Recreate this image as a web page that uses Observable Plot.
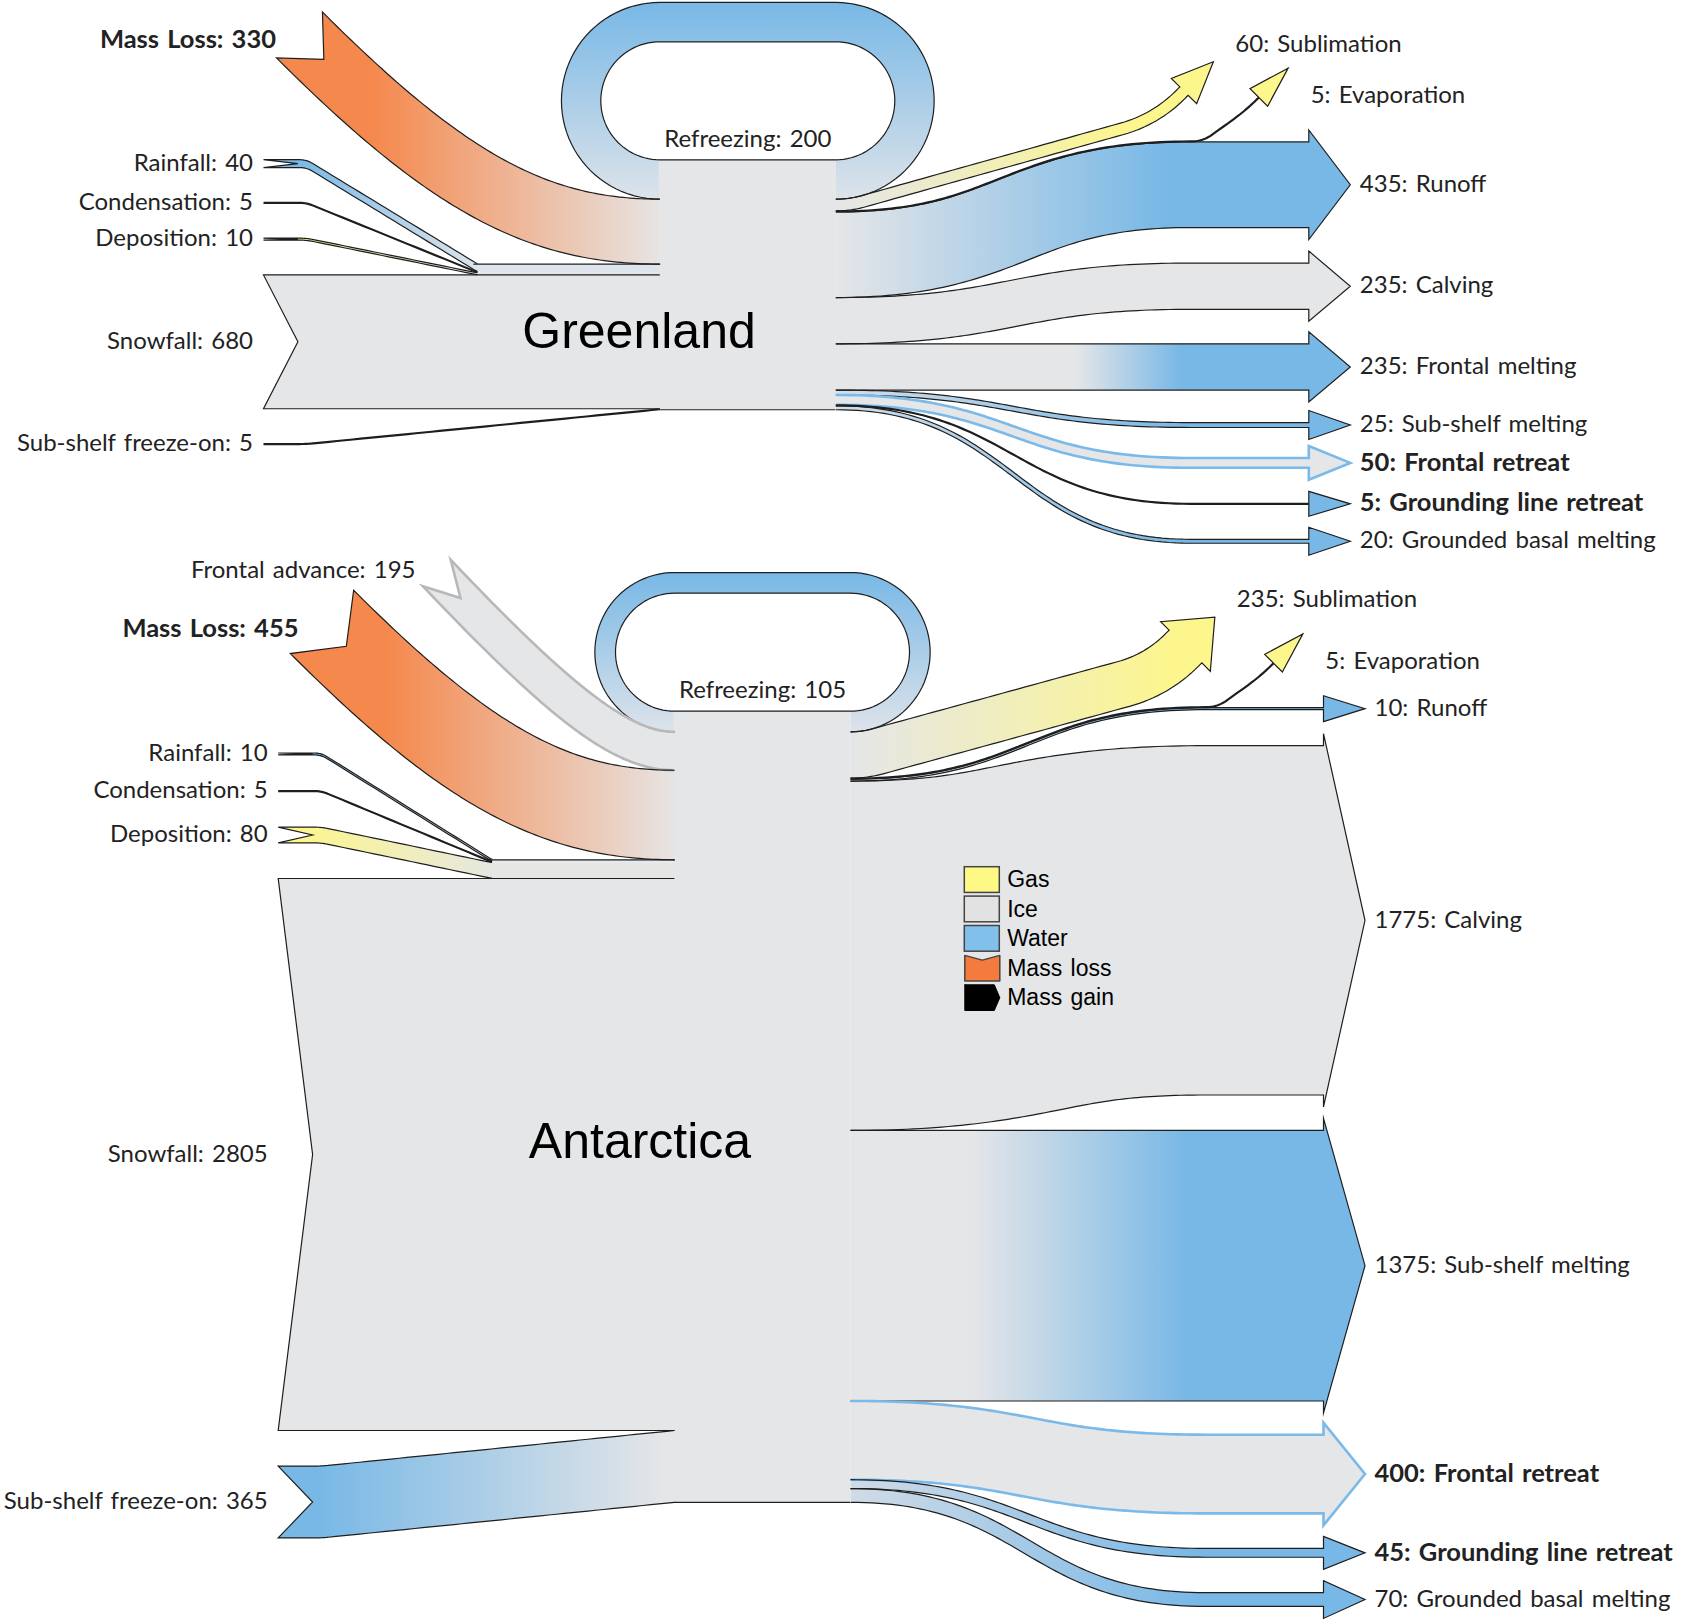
<!DOCTYPE html>
<html><head><meta charset="utf-8">
<script src="https://cdn.jsdelivr.net/npm/d3@7"></script>
<script src="https://cdn.jsdelivr.net/npm/@observablehq/plot@0.6"></script>
<style>body{margin:0;background:#fff} svg{display:block}</style>
</head><body><div id="chart"></div>
<script>
// ---------------- data (Gt per year) ----------------
const greenlandIn = ["Refreezing","Mass Loss","Rainfall","Condensation","Deposition","Snowfall","Sub-shelf freeze-on"];
const greenlandInValues = [200, 330, 40, 5, 10, 680, 5];
const greenlandOut = ["Refreezing","Sublimation","Evaporation","Runoff","Calving","Frontal melting","Sub-shelf melting","Frontal retreat","Grounding line retreat","Grounded basal melting"];
const greenlandOutValues = [200, 60, 5, 435, 235, 235, 25, 50, 5, 20];
const antarcticaIn = ["Refreezing","Frontal advance","Mass Loss","Rainfall","Condensation","Deposition","Snowfall","Sub-shelf freeze-on"];
const antarcticaInValues = [105, 195, 455, 10, 5, 80, 2805, 365];
const antarcticaOut = ["Refreezing","Sublimation","Evaporation","Runoff","Calving","Sub-shelf melting","Frontal retreat","Grounding line retreat","Grounded basal melting"];
const antarcticaOutValues = [105, 235, 5, 10, 1775, 1375, 400, 45, 70];
const boldNames = ["Mass Loss","Frontal retreat","Grounding line retreat"];
const legendLabels = ["Gas","Ice","Water","Mass loss","Mass gain"];

// ---------------- layout / style constants ----------------
const W = 1681, H = 1621;
const K = 0.1968;            // px per unit of flow
const TRUNK_W = 176, TAIL_DX = 396.3, JOIN_DX = 182, STUB = 43, SCURVE = 355, HEAD_DX = 473;
const HEAD_LEN = 41.5, HEAD_EXT = 12, NOTCH = 34.4, R_IN = 59;
const C45 = Math.SQRT1_2;
const ICE = "#e5e6e8", WATER = "#78b8e6", GAS = "#fdf68c", LOSS = "#f5884c", EDGE = "#1e1e1e", EDGE_W = 1.2, WATER_EDGE = "#7ab9e8";
const FONT = "Lato", FS = 24, FSB = 25.5;

// ---------------- geometry helpers ----------------
function lineSamples(a, b) {
  const dx = b[0]-a[0], dy = b[1]-a[1], L = Math.hypot(dx, dy);
  if (L < 1e-9) return [];
  const tx = dx/L, ty = dy/L, m = Math.max(2, Math.ceil(L/8)), out = [];
  for (let i = 0; i <= m; i++) { const t = i/m; out.push({x: a[0]+dx*t, y: a[1]+dy*t, tx, ty}); }
  return out;
}
function quadSamples(a, c, b, n = 16) {
  const out = [];
  for (let i = 0; i <= n; i++) {
    const t = i/n, mt = 1-t;
    const x = mt*mt*a[0] + 2*mt*t*c[0] + t*t*b[0], y = mt*mt*a[1] + 2*mt*t*c[1] + t*t*b[1];
    const dx = 2*mt*(c[0]-a[0]) + 2*t*(b[0]-c[0]), dy = 2*mt*(c[1]-a[1]) + 2*t*(b[1]-c[1]);
    const L = Math.hypot(dx, dy) || 1;
    out.push({x, y, tx: dx/L, ty: dy/L});
  }
  return out;
}
function bezSamples(p0, p1, p2, p3, n = 70) {
  const out = [];
  for (let i = 0; i <= n; i++) {
    const t = i/n, mt = 1-t;
    const x = mt*mt*mt*p0[0] + 3*mt*mt*t*p1[0] + 3*mt*t*t*p2[0] + t*t*t*p3[0];
    const y = mt*mt*mt*p0[1] + 3*mt*mt*t*p1[1] + 3*mt*t*t*p2[1] + t*t*t*p3[1];
    const dx = 3*mt*mt*(p1[0]-p0[0]) + 6*mt*t*(p2[0]-p1[0]) + 3*t*t*(p3[0]-p2[0]);
    const dy = 3*mt*mt*(p1[1]-p0[1]) + 6*mt*t*(p2[1]-p1[1]) + 3*t*t*(p3[1]-p2[1]);
    const L = Math.hypot(dx, dy) || 1;
    out.push({x, y, tx: dx/L, ty: dy/L});
  }
  return out;
}
function roundedPath(pts, radii) {
  let out = [], cur = pts[0];
  for (let i = 1; i < pts.length-1; i++) {
    const a = pts[i-1], p = pts[i], b = pts[i+1];
    const la = Math.hypot(p[0]-a[0], p[1]-a[1]), lb = Math.hypot(b[0]-p[0], b[1]-p[1]);
    const ua = [(p[0]-a[0])/la, (p[1]-a[1])/la], ub = [(b[0]-p[0])/lb, (b[1]-p[1])/lb];
    const r = Math.min(radii[i-1], la*(i === 1 ? 1 : 0.5), lb*(i === pts.length-2 ? 1 : 0.5));
    const s = [p[0]-ua[0]*r, p[1]-ua[1]*r], e = [p[0]+ub[0]*r, p[1]+ub[1]*r];
    out = out.concat(lineSamples(cur, s), quadSamples(s, p, e));
    cur = e;
  }
  return out.concat(lineSamples(cur, pts[pts.length-1]));
}
function band(samples, w, mode) {
  const up = [], lo = [];
  for (const s of samples) {
    const nx = mode === "v" ? 0 : -s.ty, ny = mode === "v" ? 1 : s.tx;
    up.push([s.x - nx*w/2, s.y - ny*w/2]);
    lo.push([s.x + nx*w/2, s.y + ny*w/2]);
  }
  return {up, lo};
}
function headPts(s, w) {
  const nx = -s.ty, ny = s.tx, hw = w/2 + HEAD_EXT;
  return [[s.x - nx*hw, s.y - ny*hw], [s.x + s.tx*HEAD_LEN, s.y + s.ty*HEAD_LEN], [s.x + nx*hw, s.y + ny*hw]];
}
function tipOf(samples) { const s = samples[samples.length-1]; return [s.x + s.tx*HEAD_LEN, s.y + s.ty*HEAD_LEN]; }
function outShape(samples, w, st) {
  const {up, lo} = band(samples, w, "n");
  const path = [...up, ...headPts(samples[samples.length-1], w), ...lo.reverse()];
  return {poly: path, outlines: [path], ...st};
}
function inShape(samples, w, mode, st, cutX = Infinity) {
  const {up, lo} = band(samples, w, mode);
  const s0 = samples[0], notch = [s0.x + s0.tx*NOTCH, s0.y + s0.ty*NOTCH];
  const lor = lo.slice().reverse();
  const keep = p => p[0] <= cutX;
  return {poly: [...up, ...lor, notch], outlines: [[...lor.filter(keep), notch, ...up.filter(keep)]], ...st};
}
function loopSamples(xL, xR, yc, rc) {
  const out = [], n = 48;
  for (let i = 0; i <= n; i++) { const f = Math.PI*i/n; out.push({x: xR + rc*Math.sin(f), y: yc - rc + rc*Math.cos(f), tx: Math.cos(f), ty: -Math.sin(f)}); }
  out.push(...lineSamples([xR, yc - 2*rc], [xL, yc - 2*rc]));
  for (let i = 0; i <= n; i++) { const f = Math.PI*i/n; out.push({x: xL - rc*Math.sin(f), y: yc - rc - rc*Math.cos(f), tx: -Math.cos(f), ty: Math.sin(f)}); }
  return out;
}
function stack(names, vals, top) {
  const m = {}; let y = top;
  names.forEach((n, i) => { const w = vals[i]*K; m[n] = {y0: y, y1: y + w, c: y + w/2, w, v: vals[i]}; y += w; });
  return {m, bottom: y};
}

// ---------------- diagram configurations ----------------
const diagrams = [
  {
    key: "gl", title: "Greenland",
    inNames: greenlandIn, inVals: greenlandInValues, outNames: greenlandOut, outVals: greenlandOutValues,
    x0: 659.3, top: 159.3, leftGap: 34.8,
    swoops: {"Mass Loss": {tail: [299, 34.5], angle: 45, lab: [-23.5, 5.5]}},
    subHead: [1183.5, 90.6],
    anchorIn: "Snowfall", anchorOut: "Frontal melting",
    gapsAbove: [34.5, 35.5], gapsBelow: [32.5, 30.5, 35.5, 35],
    titleAt: [638.5, 331],
    fills: g => ({
      "Refreezing": {v: [WATER, "#dde3ea"]},
      "Mass Loss": {h: [g.xL - 290, g.xL, LOSS, "#e7e4e3"]},
      "Rainfall": {h: [g.xTail + 30, g.xJoin, WATER, "#dde4ec"]},
      "Condensation": {h: [g.xTail, g.xJoin, "#444", ICE]},
      "Deposition": {h: [g.xTail + 30, g.xJoin, GAS, ICE]},
      "Snowfall": {c: ICE},
      "Sub-shelf freeze-on": {h: [g.xTail + 40, g.xL, WATER, ICE]},
      "Sublimation": {h: [g.xR, g.xR + 300, ICE, GAS]},
      "Evaporation": {c: GAS},
      "Runoff": {h: [g.xR, g.xR + 330, ICE, WATER]},
      "Calving": {c: ICE},
      "Frontal melting": {h: [g.xR + 240, g.xR + 345, ICE, WATER]},
      "Sub-shelf melting": {h: [g.xR, g.xR + 350, "#d5dee8", WATER]},
      "Frontal retreat": {c: ICE, stroke: WATER_EDGE, sw: 2.6},
      "Grounding line retreat": {c: WATER},
      "Grounded basal melting": {h: [g.xR, g.xR + 350, "#d5dee8", WATER]}
    })
  },
  {
    key: "an", title: "Antarctica",
    inNames: antarcticaIn, inVals: antarcticaInValues, outNames: antarcticaOut, outVals: antarcticaOutValues,
    x0: 674, top: 710.7, leftGap: 35.6,
    swoops: {"Frontal advance": {tail: [436.3, 572.5], angle: 46.5, lab: [-21.3, -2]}, "Mass Loss": {tail: [321.5, 621.4], angle: 45, lab: [-23.5, 7]}},
    subHead: [1185, 646],
    anchorIn: "Snowfall", anchorOut: "Sub-shelf melting",
    gapsAbove: [35.4, 36], gapsBelow: [33.7, 35, 35.4],
    titleAt: [639.5, 1141.8],
    fills: g => ({
      "Refreezing": {v: [WATER, "#dde3ea"]},
      "Frontal advance": {c: ICE, stroke: "#b8b8b8", sw: 2.6},
      "Mass Loss": {h: [g.xL - 290, g.xL, LOSS, "#e7e4e3"]},
      "Rainfall": {h: [g.xTail + 30, g.xJoin, WATER, "#dde4ec"]},
      "Condensation": {h: [g.xTail, g.xJoin, "#444", ICE]},
      "Deposition": {h: [g.xTail + 20, g.xJoin, GAS, "#e6e7e2"]},
      "Snowfall": {c: ICE},
      "Sub-shelf freeze-on": {h: [g.xTail + 40, g.xL - 10, WATER, ICE]},
      "Sublimation": {h: [g.xR, g.xR + 330, ICE, GAS]},
      "Evaporation": {c: GAS},
      "Runoff": {h: [g.xR, g.xR + 330, ICE, WATER]},
      "Calving": {c: ICE},
      "Sub-shelf melting": {h: [g.xR + 121, g.xR + 336, ICE, WATER]},
      "Frontal retreat": {c: ICE, stroke: WATER_EDGE, sw: 2.6},
      "Grounding line retreat": {h: [g.xR, g.xR + 350, "#d0dbe7", WATER]},
      "Grounded basal melting": {h: [g.xR, g.xR + 350, "#d0dbe7", WATER]}
    })
  }
];

// ---------------- build ----------------
const gradients = [], shapes = [], labels = [], trunks = [], titles = [], joinLines = [];

function build(D) {
  const xL = D.x0, xR = D.x0 + TRUNK_W, xTail = xL - TAIL_DX, xJoin = xL - JOIN_DX, xS = xR + SCURVE, xH = xR + HEAD_DX;
  const I = stack(D.inNames, D.inVals, D.top), O = stack(D.outNames, D.outVals, D.top);
  const F = D.fills({xL, xR, xTail, xJoin});
  const style = (name, extra = {}) => {
    const f = F[name] || {c: ICE};
    let fill = f.c;
    const id = `${D.key}-${name.replace(/\W/g, "")}`;
    if (f.h) { gradients.push({id, x1: f.h[0], x2: f.h[1], y1: 0, y2: 0, from: f.h[2], to: f.h[3]}); fill = `url(#${id})`; }
    if (f.v) { gradients.push({id, x1: 0, x2: 0, y1: extra.vy[0], y2: extra.vy[1], from: f.v[0], to: f.v[1]}); fill = `url(#${id})`; }
    return {fill, stroke: f.stroke || EDGE, sw: f.sw || EDGE_W};
  };
  const lab = (x, y, text, anchor, name) => labels.push({x, y, text, anchor, bold: boldNames.includes(name)});

  trunks.push({x1: xL - 0.6, x2: xR + 0.6, y1: D.top, y2: I.bottom, yb: I.bottom, xa: xL, xb: xR});
  titles.push({x: D.titleAt[0], y: D.titleAt[1], text: D.title});

  // refreezing loop
  const rf = I.m["Refreezing"], rc = R_IN + rf.w/2;
  {
    const sm = loopSamples(xL, xR, rf.c, rc);
    const {up, lo} = band(sm, rf.w, "n");
    const st = style("Refreezing", {vy: [rf.c - 2*rc - rf.w/2, rf.c + rf.w/2]});
    shapes.push({poly: [...lo, ...up.slice().reverse()], outlines: [lo, [...up, up[0]]], ...st});
    lab((xL + xR)/2, D.top - 20, `Refreezing: ${rf.v}`, "middle", "Refreezing");
  }

  // swooping inputs (mass loss, frontal advance)
  for (const [name, sw] of Object.entries(D.swoops)) {
    const p = I.m[name], a = sw.angle*Math.PI/180, d = [Math.cos(a), Math.sin(a)];
    const P0 = sw.tail, P3 = [xL, p.c];
    const cx = P0[0] + (P3[1] - P0[1]) * d[0]/d[1];
    const C = [cx, P3[1]];
    const P1 = [P0[0] + 0.75*(C[0]-P0[0]), P0[1] + 0.75*(C[1]-P0[1])];
    const P2 = [P3[0] + 0.75*(C[0]-P3[0]), P3[1]];
    const sm = bezSamples(P0, P1, P2, P3, 90);
    shapes.push(inShape(sm, p.w, "n", style(name)));
    lab(P0[0] + sw.lab[0], P0[1] + sw.lab[1], `${name}: ${p.v}`, "end", name);
  }

  // side inputs stacked around the anchor (snowfall)
  const ia = D.inNames.indexOf(D.anchorIn);
  const anchor = I.m[D.anchorIn];
  const sideIn = [{name: D.anchorIn, tc: anchor.c, kind: "straight"}];
  let prevTop = anchor.y0, joinTop = null;
  D.inNames.slice(0, ia).filter(n => n !== "Refreezing" && !D.swoops[n]).reverse().forEach(n => {
    const w = I.m[n].w, bottom = prevTop - D.leftGap;
    sideIn.push({name: n, tc: bottom - w/2, kind: "join"}); prevTop = bottom - w;
    joinTop = I.m[n].y0;
  });
  let prevBot = anchor.y1;
  D.inNames.slice(ia + 1).forEach(n => {
    const w = I.m[n].w, topY = prevBot + D.leftGap;
    sideIn.push({name: n, tc: topY + w/2, kind: "direct"}); prevBot = topY + w;
  });
  for (const s of sideIn) {
    const p = I.m[s.name];
    let sm, cut = Infinity;
    if (s.kind === "straight") sm = lineSamples([xTail, s.tc], [xL, p.c]);
    else if (s.kind === "join") { sm = roundedPath([[xTail, s.tc], [xTail + STUB, s.tc], [xJoin, p.c], [xL, p.c]], [7, 4]); cut = xJoin; }
    else sm = roundedPath([[xTail, s.tc], [xTail + STUB, s.tc], [xL, p.c]], [7]);
    shapes.push(inShape(sm, p.w, "v", style(s.name), cut));
    lab(xTail - 10.5, s.tc, `${s.name}: ${p.v}`, "end", s.name);
  }
  if (joinTop !== null) joinLines.push([[xJoin - 4, joinTop], [xL, joinTop]]);

  // outputs: sublimation
  {
    const p = O.m["Sublimation"], Hh = D.subHead;
    const sm = roundedPath([[xR, p.c], [xR + 14, p.c], [Hh[0] - 40*C45, Hh[1] + 40*C45], Hh], [14, 35]);
    shapes.push(outShape(sm, p.w, style("Sublimation")));
    const t = tipOf(sm);
    lab(t[0] + 22, t[1] - 17, `${p.v}: Sublimation`, "start", "Sublimation");
  }

  // horizontal outputs stacked around anchor
  const oa = D.outNames.indexOf(D.anchorOut);
  const ends = {};
  ends[D.anchorOut] = O.m[D.anchorOut].c;
  let pTop = O.m[D.anchorOut].y0;
  D.outNames.slice(0, oa).filter(n => !["Refreezing", "Sublimation", "Evaporation"].includes(n)).reverse().forEach((n, k) => {
    const w = O.m[n].w, bottom = pTop - D.gapsAbove[k];
    ends[n] = bottom - w/2; pTop = bottom - w;
  });
  let pBot = O.m[D.anchorOut].y1;
  D.outNames.slice(oa + 1).forEach((n, k) => {
    const w = O.m[n].w, topY = pBot + D.gapsBelow[k];
    ends[n] = topY + w/2; pBot = topY + w;
  });
  let runoffS = null;
  for (const [n, c1] of Object.entries(ends)) {
    const p = O.m[n], c0 = p.c, xm = xR + SCURVE/2;
    const sPart = bezSamples([xR, c0], [xm, c0], [xm, c1], [xS, c1], 70);
    if (n === "Runoff") runoffS = sPart;
    const sm = sPart.concat(lineSamples([xS, c1], [xH, c1]));
    shapes.push(outShape(sm, p.w, style(n)));
    lab(xH + HEAD_LEN + 9.5, c1, `${p.v}: ${n}`, "start", n);
  }

  // evaporation follows the upper edge of runoff, then branches upward
  {
    const p = O.m["Evaporation"], d = (O.m["Runoff"].w + p.w)/2;
    const es = runoffS.map(s => ({x: s.x + s.ty*d, y: s.y - s.tx*d, tx: s.tx, ty: s.ty}));
    const B = [es[es.length-1].x, es[es.length-1].y], Hh = [B[0] + 68, B[1] - 44];
    const sm = es.concat(roundedPath([B, [B[0] + 12, B[1]], [Hh[0] - 18*C45, Hh[1] + 18*C45], Hh], [12, 16]));
    shapes.push(outShape(sm, p.w, style("Evaporation")));
    const t = tipOf(sm);
    lab(t[0] + 22.5, t[1] + 27.5, `${p.v}: Evaporation`, "start", "Evaporation");
  }
}
diagrams.forEach(build);

// ---------------- legend ----------------
const LX = 964.3, LY = 866.7, LBW = 35, LBH = 25.7, LROW = 29.4;
const legendFill = ["#fef885", "#e2e2e2", "#80c0ea", "#f47a3e", "#000000"];
const legendRects = legendLabels.slice(0, 3).map((l, i) => ({x1: LX, x2: LX + LBW, y1: LY + i*LROW, y2: LY + i*LROW + LBH, fill: legendFill[i]}));
const ly3 = LY + 3*LROW, ly4 = LY + 4*LROW;
const lossIcon = [[LX, ly3], [LX + LBW/2, ly3 + 4.7], [LX + LBW, ly3], [LX + LBW, ly3 + LBH], [LX, ly3 + LBH], [LX, ly3]];
const gainIcon = [[LX, ly4], [LX + LBW - 5.5, ly4], [LX + LBW, ly4 + LBH/2], [LX + LBW - 5.5, ly4 + LBH], [LX, ly4 + LBH], [LX, ly4]];
const legendText = legendLabels.map((l, i) => ({x: LX + 42.4, y: LY + i*LROW + LBH/2, text: l}));

// ---------------- marks ----------------
const X = d => d[0], Y = d => d[1];
const marks = [];
for (const s of shapes) marks.push(Plot.line(s.poly, {x: X, y: Y, fill: s.fill, stroke: "none"}));
marks.push(Plot.rect(trunks, {x1: "x1", x2: "x2", y1: "y1", y2: "y2", fill: ICE}));
for (const s of shapes) for (const o of s.outlines)
  marks.push(Plot.line(o, {x: X, y: Y, stroke: s.stroke, strokeWidth: s.sw, strokeLinejoin: "miter", strokeMiterlimit: 8, strokeLinecap: "butt"}));
for (const l of joinLines) marks.push(Plot.line(l, {x: X, y: Y, stroke: EDGE, strokeWidth: EDGE_W}));
marks.push(Plot.ruleY(trunks, {y: "yb", x1: "xa", x2: "xb", stroke: EDGE, strokeWidth: EDGE_W}));
marks.push(Plot.text(titles, {x: "x", y: "y", text: "text", fontSize: 50, fontFamily: "Liberation Sans", fill: "#000"}));
for (const anchor of ["start", "middle", "end"]) for (const bold of [false, true]) {
  const data = labels.filter(d => d.anchor === anchor && d.bold === bold);
  if (data.length) marks.push(Plot.text(data, {x: "x", y: "y", dy: -0.5, text: "text", textAnchor: anchor, fontSize: bold ? FSB : FS, fontFamily: FONT, fontWeight: bold ? "bold" : "normal", fill: "#222"}));
}
marks.push(Plot.rect(legendRects, {x1: "x1", x2: "x2", y1: "y1", y2: "y2", fill: "fill", stroke: "#444", strokeWidth: 1.5}));
marks.push(Plot.line(lossIcon, {x: X, y: Y, fill: legendFill[3], stroke: "#444", strokeWidth: 1.5}));
marks.push(Plot.line(gainIcon, {x: X, y: Y, fill: legendFill[4], stroke: "#000", strokeWidth: 1}));
marks.push(Plot.text(legendText, {x: "x", y: "y", text: "text", textAnchor: "start", fontSize: 23, fontFamily: "Liberation Sans", fill: "#000"}));

const svg = Plot.plot({
  width: W, height: H, margin: 0,
  x: {domain: [0, W], range: [0, W], axis: null},
  y: {domain: [0, H], range: [0, H], axis: null},
  color: {type: "identity"},
  style: {background: "#fff"},
  marks
});

// gradient definitions, positioned through the plot's own scales
const sx = svg.scale("x"), sy = svg.scale("y");
const defs = d3.select(svg).insert("defs", ":first-child");
for (const g of gradients) {
  const lg = defs.append("linearGradient").attr("id", g.id).attr("gradientUnits", "userSpaceOnUse")
    .attr("x1", sx.apply(g.x1)).attr("x2", sx.apply(g.x2)).attr("y1", sy.apply(g.y1)).attr("y2", sy.apply(g.y2));
  lg.append("stop").attr("offset", 0).attr("stop-color", g.from);
  lg.append("stop").attr("offset", 1).attr("stop-color", g.to);
}
d3.select(svg).selectAll("text").style("word-spacing", "2px");
document.getElementById("chart").append(svg);
</script>
</body></html>
